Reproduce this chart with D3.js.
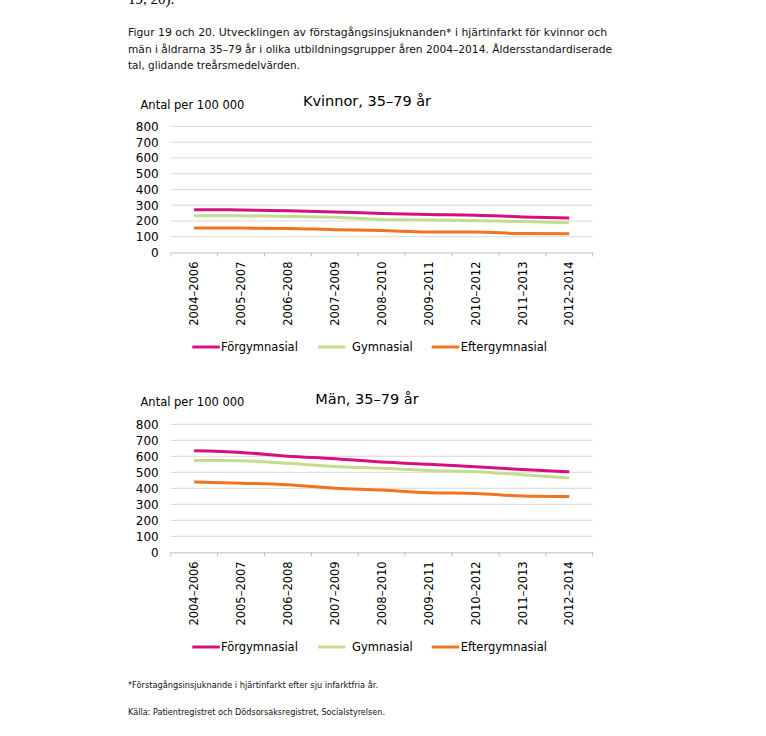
<!DOCTYPE html>
<html><head><meta charset="utf-8">
<script src="https://cdn.jsdelivr.net/npm/d3@7"></script>
<style>body{margin:0;background:#fff}svg{display:block}</style>
</head><body>
<script>
const periods = ["2004–2006","2005–2007","2006–2008","2007–2009","2008–2010","2009–2011","2010–2012","2011–2013","2012–2014"];
const seriesNames = ["Förgymnasial","Gymnasial","Eftergymnasial"];
const seriesColors = ["#d6117e","#c3dc8e","#f07423"];
const kvinnorFor = [272,270,265,257,248,241,237,226,219];
const kvinnorGym = [233,233,229,223,210,206,202,197,189];
const kvinnorEft = [155,155,153,145,139,130,130,120,119];
const manFor = [634,624,601,585,564,550,534,518,503];
const manGym = [574,572,556,537,525,512,504,485,464];
const manEft = [440,432,422,401,389,372,368,352,348];
const yTicks = [0,100,200,300,400,500,600,700,800];
const captionLines = [
  "Figur 19 och 20. Utvecklingen av förstagångsinsjuknanden* i hjärtinfarkt för kvinnor och",
  "män i åldrarna 35–79 år i olika utbildningsgrupper åren 2004–2014. Åldersstandardiserade",
  "tal, glidande treårsmedelvärden."
];
const footnotes = [
  "*Förstagångsinsjuknande i hjärtinfarkt efter sju infarktfria år.",
  "Källa: Patientregistret och Dödsorsaksregistret, Socialstyrelsen."
];

const W = 766, H = 736;
const svg = d3.select("body").append("svg").attr("width", W).attr("height", H);
const FONT = "DejaVu Sans, Verdana, sans-serif";

// cut-off text at top
svg.append("text").attr("x",128).attr("y",4).attr("font-family","Liberation Serif, serif")
  .attr("font-size",15).attr("fill","#000").text("19, 20).");

const capW = [479, 484, 172];
captionLines.forEach((t,i)=>{
  svg.append("text").attr("x",128).attr("y",36+i*16.5).attr("font-family",FONT)
    .attr("font-size",10.2).attr("fill","#111").attr("textLength",capW[i])
    .attr("lengthAdjust","spacingAndGlyphs").text(t);
});
const footW = [250, 257];
footnotes.forEach((t,i)=>{
  svg.append("text").attr("x",128).attr("y",688+i*27).attr("font-family",FONT)
    .attr("font-size",8).attr("fill","#111").attr("textLength",footW[i])
    .attr("lengthAdjust","spacingAndGlyphs").text(t);
});

function drawChart(cfg){
  const {top, bottom, title, titleY, unitY, legendY, data} = cfg;
  const x = d3.scaleBand().domain(periods).range([170.7, 592.7]);
  const y = d3.scaleLinear().domain([0,800]).range([bottom, top]);
  const g = svg.append("g");

  // gridlines
  g.append("g").selectAll("line").data(yTicks.filter(d=>d>0)).join("line")
    .attr("x1",170.7).attr("x2",592.7).attr("y1",d=>y(d)).attr("y2",d=>y(d))
    .attr("stroke","#d9d9d9").attr("stroke-width",1);

  // y axis labels
  const ya = g.append("g").attr("transform","translate(170.7,0)")
    .call(d3.axisLeft(y).tickValues(yTicks).tickSize(0).tickPadding(12));
  ya.select(".domain").remove();
  ya.selectAll("text").attr("font-family",FONT).attr("font-size",12).attr("fill","#000");

  // x axis
  const xa = g.append("g").attr("transform",`translate(0,${bottom})`)
    .call(d3.axisBottom(x).tickSize(0).tickPadding(0));
  xa.select(".domain").attr("stroke","#bfbfbf");
  xa.selectAll(".tick text").attr("font-family",FONT).attr("font-size",11.5).attr("fill","#000")
    .attr("transform","rotate(-90)").attr("text-anchor","end").attr("dx","-9").attr("dy","0.36em").attr("x",0).attr("y",0);
  // band boundary ticks
  const bounds = periods.map(p=>x(p)).concat([x.range()[1]]);
  g.append("g").selectAll("line").data(bounds).join("line")
    .attr("x1",d=>d).attr("x2",d=>d).attr("y1",bottom).attr("y2",bottom+4)
    .attr("stroke","#bfbfbf");

  // lines
  const line = d3.line().x((d,i)=>x(periods[i])+x.bandwidth()/2).y(d=>y(d)).curve(d3.curveMonotoneX);
  data.forEach((s,i)=>{
    g.append("path").datum(s).attr("d",line).attr("fill","none")
      .attr("stroke",seriesColors[i]).attr("stroke-width",3).attr("stroke-linecap","butt");
  });

  // titles
  g.append("text").attr("x",367).attr("y",titleY).attr("text-anchor","middle")
    .attr("font-family",FONT).attr("font-size",14.5).attr("fill","#000").text(title);
  g.append("text").attr("x",140.5).attr("y",unitY)
    .attr("font-family",FONT).attr("font-size",11.5).attr("fill","#000").text("Antal per 100 000");

  // legend
  const legX = [[192.3,221],[318,352],[431.7,460.7]];
  seriesNames.forEach((n,i)=>{
    g.append("line").attr("x1",legX[i][0]).attr("x2",legX[i][0]+27.5)
      .attr("y1",legendY).attr("y2",legendY).attr("stroke",seriesColors[i]).attr("stroke-width",3);
    g.append("text").attr("x",legX[i][1]).attr("y",legendY).attr("dy","0.36em")
      .attr("font-family",FONT).attr("font-size",11.5).attr("fill","#000").text(n);
  });
}

drawChart({top:126.4,bottom:252.5,title:"Kvinnor, 35–79 år",titleY:106,unitY:109,legendY:347,
  data:[kvinnorFor,kvinnorGym,kvinnorEft]});
drawChart({top:424.3,bottom:552.3,title:"Män, 35–79 år",titleY:404,unitY:405.5,legendY:647,
  data:[manFor,manGym,manEft]});
</script>
</body></html>
